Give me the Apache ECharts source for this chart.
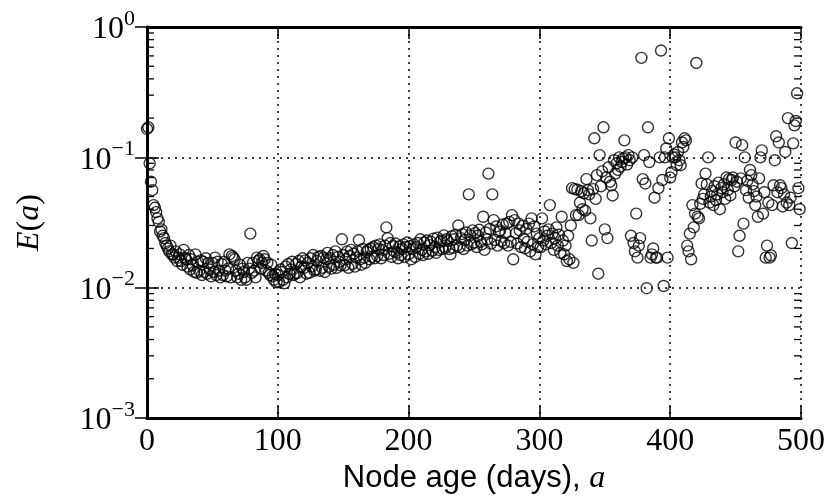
<!DOCTYPE html>
<html>
<head>
<meta charset="utf-8">
<script src="https://cdn.jsdelivr.net/npm/echarts@6/dist/echarts.min.js"></script>
<style>
  html, body { margin: 0; padding: 0; background: #fff; }
  #chart { width: 829px; height: 502px; }
</style>
</head>
<body>
<div id="chart"></div>
<script>
// E(a) per day of node age, one value per day
var e000 = [
  0.165, 0.17, 0.09, 0.065, 0.056, 0.043, 0.041, 0.038, 0.034, 0.032,
  0.027, 0.028, 0.025, 0.024, 0.022, 0.021, 0.020, 0.019, 0.021, 0.018,
  0.018, 0.017, 0.019, 0.016, 0.017, 0.018, 0.016, 0.015, 0.0195, 0.017,
  0.0165, 0.0145, 0.0178, 0.0138, 0.0165, 0.0148, 0.0132, 0.018, 0.013, 0.0158,
  0.0135, 0.0162, 0.0125, 0.0158, 0.0132, 0.0168, 0.0128, 0.0155, 0.0138, 0.0122,
  0.0155, 0.0132, 0.017, 0.0125, 0.0158, 0.0135, 0.012, 0.0152, 0.0125, 0.0158,
  0.0135, 0.0122, 0.014, 0.018, 0.012, 0.0175, 0.017, 0.0165, 0.0135, 0.012,
  0.0128, 0.015, 0.0115, 0.014, 0.0132, 0.012, 0.0115, 0.0155, 0.014, 0.026,
  0.013, 0.0155, 0.0135, 0.012, 0.017, 0.016, 0.0165, 0.014, 0.0155, 0.0175,
  0.0165, 0.0135, 0.0155, 0.013, 0.0125, 0.015, 0.0122, 0.0115, 0.0128, 0.011
];
var e100 = [
  0.0125, 0.011, 0.0138, 0.0132, 0.0115, 0.0108, 0.0145, 0.012, 0.0152, 0.0128,
  0.0138, 0.0158, 0.0125, 0.0128, 0.0152, 0.013, 0.016, 0.012, 0.0145, 0.0168,
  0.0142, 0.0162, 0.0128, 0.0155, 0.013, 0.0168, 0.0145, 0.0178, 0.0135, 0.0138,
  0.016, 0.0172, 0.0135, 0.0175, 0.0142, 0.017, 0.0132, 0.0165, 0.0185, 0.0145,
  0.0168, 0.014, 0.0178, 0.015, 0.019, 0.0142, 0.0172, 0.0158, 0.0148, 0.0235,
  0.0178, 0.0148, 0.0165, 0.019, 0.0142, 0.0175, 0.0195, 0.0152, 0.0182, 0.0145,
  0.017, 0.019, 0.0232, 0.0165, 0.015, 0.0198, 0.017, 0.0155, 0.0188, 0.0195,
  0.0165, 0.02, 0.0172, 0.0205, 0.0168, 0.021, 0.0175, 0.0198, 0.0215, 0.0168,
  0.0195, 0.0178, 0.021, 0.029, 0.024, 0.0182, 0.022, 0.0172, 0.0208, 0.019,
  0.0218, 0.0185, 0.0168, 0.0208, 0.0178, 0.0198, 0.0215, 0.0172, 0.0205, 0.0222
];
var e200 = [
  0.018, 0.0208, 0.0165, 0.0198, 0.0215, 0.0172, 0.0205, 0.022, 0.0182, 0.0235,
  0.0195, 0.0178, 0.0222, 0.019, 0.023, 0.0182, 0.0212, 0.0225, 0.0192, 0.0238,
  0.0205, 0.0185, 0.0242, 0.0195, 0.0225, 0.023, 0.0198, 0.0252, 0.0202, 0.0235,
  0.0228, 0.0198, 0.018, 0.0248, 0.0202, 0.0235, 0.0255, 0.021, 0.03, 0.0205,
  0.024, 0.0258, 0.0198, 0.0232, 0.0265, 0.021, 0.052, 0.0252, 0.0215, 0.0275,
  0.0222, 0.0262, 0.0205, 0.025, 0.0278, 0.0225, 0.0215, 0.035, 0.0195, 0.0265,
  0.0235, 0.075, 0.0282, 0.0218, 0.052, 0.033, 0.0232, 0.0295, 0.021, 0.0268,
  0.0275, 0.0228, 0.0305, 0.022, 0.0262, 0.031, 0.021, 0.032, 0.0225, 0.036,
  0.0165, 0.033, 0.0262, 0.0218, 0.031, 0.0275, 0.0205, 0.0298, 0.0238, 0.02,
  0.0282, 0.0225, 0.031, 0.019, 0.034, 0.0215, 0.0295, 0.018, 0.026, 0.0205
];
var e300 = [
  0.024, 0.0205, 0.034, 0.023, 0.027, 0.0215, 0.025, 0.028, 0.043, 0.022,
  0.026, 0.0195, 0.024, 0.029, 0.021, 0.0255, 0.0185, 0.035, 0.023, 0.018,
  0.021, 0.016, 0.025, 0.0165, 0.03, 0.058, 0.0155, 0.057, 0.036, 0.0565,
  0.036, 0.045, 0.055, 0.04, 0.053, 0.039, 0.068, 0.056, 0.052, 0.034,
  0.023, 0.057, 0.14, 0.048, 0.073, 0.0128, 0.104, 0.06, 0.078, 0.17,
  0.028, 0.07, 0.024, 0.084, 0.065, 0.061, 0.051, 0.095, 0.075, 0.09,
  0.08, 0.1, 0.085, 0.092, 0.098, 0.135, 0.1, 0.088, 0.104, 0.095,
  0.025, 0.1, 0.022, 0.019, 0.037, 0.017, 0.021, 0.024, 0.58, 0.068,
  0.104, 0.063, 0.0099, 0.17, 0.092, 0.017, 0.018, 0.02, 0.049, 0.017,
  0.017, 0.058, 0.1, 0.66, 0.067, 0.0103, 0.1, 0.117, 0.017, 0.14
];
var e400 = [
  0.07, 0.077, 0.1, 0.105, 0.1, 0.087, 0.11, 0.095, 0.087, 0.13,
  0.12, 0.14, 0.135, 0.021, 0.019, 0.026, 0.0165, 0.043, 0.029, 0.037,
  0.53, 0.035, 0.034, 0.044, 0.063, 0.048, 0.052, 0.075, 0.062, 0.1,
  0.045, 0.05, 0.055, 0.043, 0.06, 0.047, 0.052, 0.064, 0.04, 0.058,
  0.054, 0.062, 0.048, 0.07, 0.056, 0.068, 0.051, 0.067, 0.07, 0.06,
  0.13, 0.065, 0.019, 0.025, 0.069, 0.124, 0.031, 0.1, 0.056, 0.066,
  0.049, 0.08, 0.073, 0.062, 0.055, 0.043, 0.05, 0.035, 0.069, 0.1,
  0.113, 0.037, 0.054, 0.017, 0.021, 0.045, 0.017, 0.0177, 0.043, 0.061,
  0.095, 0.145, 0.054, 0.13, 0.061, 0.058, 0.042, 0.052, 0.11, 0.045,
  0.2, 0.043, 0.049, 0.022, 0.128, 0.176, 0.19, 0.31, 0.058, 0.04
];
var segStart = [0, 100, 200, 300, 400];
var segValues = [e000, e100, e200, e300, e400];

var xTicks = [0, 100, 200, 300, 400, 500];
var yDecades = [0.001, 0.01, 0.1, 1];
var minorSteps = [2, 3, 4, 5, 6, 7, 8, 9];

var serif = 'Liberation Serif';
var sans = 'Liberation Sans';

var points = [];
for (var s = 0; s < segValues.length; s++) {
    for (var i = 0; i < segValues[s].length; i++) {
        points.push([segStart[s] + i, segValues[s][i]]);
    }
}

// 对数轴的次刻度 2..9
var minorVals = [];
for (var d = 0; d < yDecades.length - 1; d++) {
    for (var k = 0; k < minorSteps.length; k++) {
        minorVals.push([0, yDecades[d] * minorSteps[k]]);
    }
}

function yLabel(v) {
    var ex = Math.round(Math.log(v) / Math.LN10);
    var sup = ex === 0 ? '0' : '\u2212' + (-ex);
    return '{b|10}{s|' + sup + '}';
}

var tickStyle = { color: '#000', width: 1.5 };
var gridDash = { color: '#000', width: 1.5, type: [2, 5] };

var option = {
    animation: false,
    backgroundColor: '#fff',
    grid: {
        left: 147,
        right: 28,
        top: 27,
        bottom: 84
    },
    xAxis: [
        {
            type: 'value',
            min: 0,
            max: 500,
            interval: 100,
            position: 'bottom',
            axisLine: { show: true, lineStyle: { color: '#000', width: 3 } },
            axisTick: { show: true, inside: true, length: 12, lineStyle: tickStyle },
            splitLine: { show: true, lineStyle: gridDash },
            axisLabel: {
                color: '#000',
                fontFamily: serif,
                fontSize: 32,
                margin: 8,
                formatter: function (v) { return xTicks.indexOf(v) >= 0 ? String(v) : ''; }
            },
            name: '{t|Node age (days), }{i|a}',
            nameLocation: 'middle',
            nameGap: 44,
            nameTextStyle: {
                rich: {
                    t: { fontFamily: sans, fontSize: 31, color: '#000' },
                    i: { fontFamily: serif, fontStyle: 'italic', fontSize: 32, color: '#000' }
                }
            }
        },
        {
            type: 'value',
            min: 0,
            max: 500,
            interval: 100,
            position: 'top',
            axisLine: { show: true, lineStyle: { color: '#000', width: 3 } },
            axisTick: { show: true, inside: true, length: 12, lineStyle: tickStyle },
            splitLine: { show: false },
            axisLabel: { show: false }
        }
    ],
    yAxis: [
        {
            type: 'log',
            logBase: 10,
            min: 0.001,
            max: 1,
            position: 'left',
            axisLine: { show: true, lineStyle: { color: '#000', width: 3 } },
            axisTick: { show: true, inside: true, length: 12, lineStyle: tickStyle },
            splitLine: { show: true, lineStyle: gridDash },
            axisLabel: {
                margin: 12,
                formatter: yLabel,
                rich: {
                    b: { fontFamily: serif, fontSize: 32, color: '#000', verticalAlign: 'bottom' },
                    s: { fontFamily: serif, fontSize: 22, color: '#000', verticalAlign: 'top', padding: [0, 0, 16, 0] }
                }
            },
            name: '{i|E}{t|(}{i|a}{t|)}',
            nameLocation: 'middle',
            nameGap: 101,
            nameRotate: 90,
            nameTextStyle: {
                rich: {
                    t: { fontFamily: serif, fontSize: 32, color: '#000' },
                    i: { fontFamily: serif, fontStyle: 'italic', fontSize: 32, color: '#000' }
                }
            }
        },
        {
            type: 'log',
            logBase: 10,
            min: 0.001,
            max: 1,
            position: 'right',
            axisLine: { show: true, lineStyle: { color: '#000', width: 3 } },
            axisTick: { show: true, inside: true, length: 12, lineStyle: tickStyle },
            splitLine: { show: false },
            axisLabel: { show: false }
        }
    ],
    series: [
        {
            // 次刻度，左右两边
            type: 'custom',
            silent: true,
            xAxisIndex: 0,
            yAxisIndex: 0,
            data: minorVals,
            renderItem: function (params, api) {
                var l = api.coord([0, api.value(1)]);
                var r = api.coord([500, api.value(1)]);
                return {
                    type: 'group',
                    children: [
                        { type: 'line', shape: { x1: l[0], y1: l[1], x2: l[0] + 7, y2: l[1] }, style: { stroke: '#000', lineWidth: 1.3 } },
                        { type: 'line', shape: { x1: r[0] - 7, y1: r[1], x2: r[0], y2: r[1] }, style: { stroke: '#000', lineWidth: 1.3 } }
                    ]
                };
            }
        },
        {
            type: 'scatter',
            xAxisIndex: 0,
            yAxisIndex: 0,
            symbol: 'circle',
            symbolSize: 11,
            data: points,
            itemStyle: {
                color: 'rgba(0,0,0,0)',
                borderColor: '#000',
                borderWidth: 1.4
            }
        }
    ]
};

var myChart = echarts.init(document.getElementById('chart'));
myChart.setOption(option);
</script>
</body>
</html>
